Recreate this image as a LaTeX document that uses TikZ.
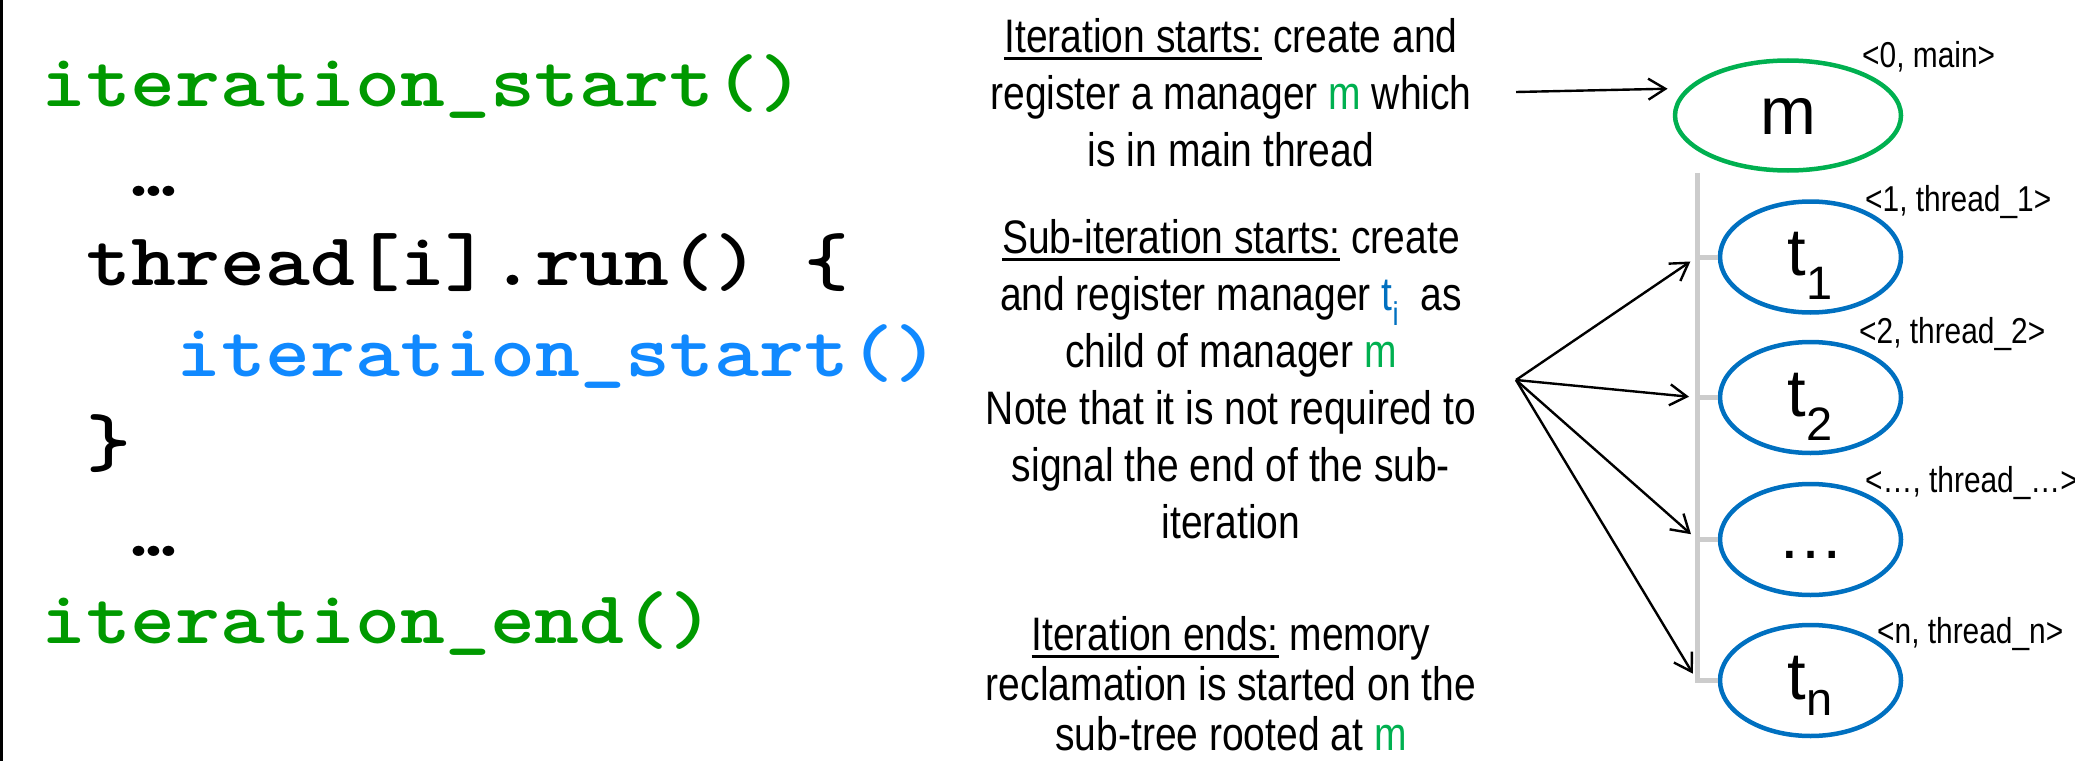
\documentclass[tikz,border=0pt]{standalone}
\usepackage{fontspec}
\usetikzlibrary{shapes.geometric,arrows.meta}

\newfontfamily\codefont[FakeStretch=1.14]{lmmonolt10-bold.otf}
\newfontfamily\narrowfont[FakeStretch=0.83]{Liberation Sans}
\newfontfamily\nodefont{Liberation Sans}

\definecolor{codeGreen}{RGB}{0,153,0}
\definecolor{codeBlue}{RGB}{16,137,255}
\definecolor{mgrGreen}{RGB}{0,176,80}
\definecolor{mgrBlue}{RGB}{0,112,192}
\definecolor{spineGray}{RGB}{204,204,204}

% underline for the note headings
\newcommand\headul[1]{\setbox0=\hbox{#1}\rlap{\rule[-8bp]{\wd0}{3bp}}\box0\relax}

\tikzset{
  codeline/.style={anchor=base west,inner sep=0pt,
    font=\codefont\fontsize{75bp}{90bp}\selectfont},
  noteText/.style={anchor=north,align=center,inner sep=0pt,
    font=\narrowfont\fontsize{47bp}{57bp}\selectfont},
  mgr/.style={ellipse,draw,line width=4.5bp,inner sep=0pt,
    text height=37bp,text depth=0pt,
    font=\nodefont\fontsize{67bp}{80bp}\selectfont},
  tmgr/.style={mgr,draw=mgrBlue,minimum width=181bp,minimum height=111bp},
  threadTag/.style={anchor=base west,inner sep=0pt,
    font=\narrowfont\fontsize{36bp}{40bp}\selectfont},
  arr/.style={-{Straight Barb[length=17bp,width=21bp]},line width=2.4bp},
  spineline/.style={draw=spineGray,line width=5bp}
}

\begin{document}
\begin{tikzpicture}[x=1bp,y=-1bp]
\useasboundingbox (0,0) rectangle (2075,761);
\draw[line width=2.5bp] (1.25,0) -- (1.25,761);

% pseudo code
\node[codeline,text=codeGreen] (codeStart) at (41,106) {iteration\_start()};
\node[codeline] (codeDotsA) at (131,196) {…};
\node[codeline] (codeRun) at (86,285) {thread[i].run() \{};
\node[codeline,text=codeBlue] (codeInner) at (176,376) {iteration\_start()};
\node[codeline] (codeClose) at (86,466) {\}};
\node[codeline] (codeDotsB) at (131,556) {…};
\node[codeline,text=codeGreen] (codeEnd) at (41,643) {iteration\_end()};

% notes
\node[noteText] (startNote) at (1231,18)
  {\headul{Iteration starts:} create and\\
   register a manager \textcolor{mgrGreen}{m} which\\
   is in main thread};
\node[noteText] (subNote) at (1231,219)
  {\headul{Sub-iteration starts:} create\\
   and register manager \textcolor{mgrBlue}{t\textsubscript{i}}~ as\\
   child of manager \textcolor{mgrGreen}{m}\\
   Note that it is not required to\\
   signal the end of the sub-\\
   iteration};
\node[noteText,font=\narrowfont\fontsize{47bp}{50bp}\selectfont] (endNote) at (1231,616)
  {\headul{Iteration ends:} memory\\
   reclamation is started on the\\
   sub-tree rooted at \textcolor{mgrGreen}{m}};

% managers
\node[mgr,draw=mgrGreen,minimum width=226bp,minimum height=110bp] (m) at (1788,115.5) {m};
\node[tmgr] (t1) at (1810.5,257) {t\textsubscript{1}};
\node[tmgr] (t2) at (1810.5,397.5) {t\textsubscript{2}};
\node[tmgr] (tdots) at (1810.5,539.5) {…};
\node[tmgr] (tn) at (1810.5,680.5) {t\textsubscript{n}};

\node[threadTag] (mTag) at (1862,68) {<0, main>};
\node[threadTag] (t1Tag) at (1865,211) {<1, thread\_1>};
\node[threadTag] (t2Tag) at (1859,343) {<2, thread\_2>};
\node[threadTag] (tdotsTag) at (1865,492) {<…, thread\_…>};
\node[threadTag] (tnTag) at (1877,643) {<n, thread\_n>};

% tree and arrows
\coordinate (spine) at (1697,0);
\coordinate (startFrom) at (1516,92);
\coordinate (fan) at (1516,380);

\draw[spineline] (spine |- m.south) -- (spine |- tn) -- (tn.west);
\foreach \t in {t1,t2,tdots}
  \draw[spineline] (spine |- \t) -- (\t.west);

\draw[arr,shorten >=19bp] (startFrom) -- (m.165);
\foreach \t in {t1,t2,tdots,tn}
  \draw[arr,shorten >=8bp] (fan) -- (spine |- \t);
\end{tikzpicture}
\end{document}
